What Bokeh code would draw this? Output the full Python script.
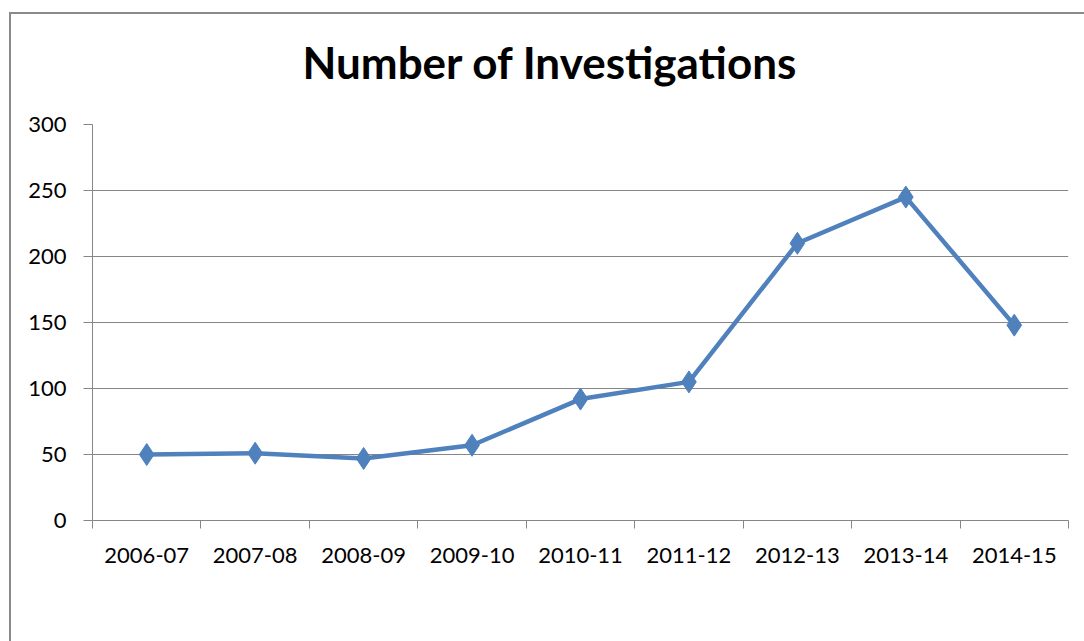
from bokeh.plotting import figure
from bokeh.models import (FixedTicker, Legend, LegendItem, Range1d)
from bokeh.embed import file_html
from bokeh.resources import INLINE

categories = ["2006-07", "2007-08", "2008-09", "2009-10", "2010-11",
              "2011-12", "2012-13", "2013-14", "2014-15"]
investigations = [50, 51, 47, 57, 92, 105, 210, 245, 148]
y_ticks = [0, 50, 100, 150, 200, 250, 300]
series_name = "Number of Investigations"
title_text = "Number of Investigations"

FONT = "Lato"
BLUE = "#4F81BD"
GRAY = "#868686"

n = len(categories)
xs = [i + 0.5 for i in range(n)]

p = figure(frame_width=976, frame_height=396, output_backend="svg", toolbar_location=None,
           x_range=Range1d(0, n), y_range=Range1d(0, 300),
           min_border_left=92, min_border_right=16, min_border_top=124,
           min_border_bottom=121, title=title_text)
# chart-area border (gray line on the left and top), drawn behind a transparent canvas
p.styles = {
    "background-image": "linear-gradient(#8a8a8a, #8a8a8a), linear-gradient(#8a8a8a, #8a8a8a)",
    "background-position": "9px 12px, 9px 12px",
    "background-size": "1200px 2px, 2px 800px",
    "background-repeat": "no-repeat",
}
p.outline_line_color = None
p.background_fill_color = "white"
p.border_fill_color = None

p.title.text_font = FONT
p.title.text_font_style = "bold"
p.title.text_font_size = "44px"
p.title.align = "left"
p.title.offset = 210
p.title.vertical_align = "top"
p.title.standoff = 70
p.title.text_color = "black"

line_r = p.line(xs, investigations, line_color=BLUE, line_width=4.5)
mark_r = p.scatter(xs, investigations, marker="diamond", size=22,
                   fill_color=BLUE, line_color=BLUE)

# x axis
xa = p.xaxis[0]
xa.ticker = FixedTicker(ticks=xs, minor_ticks=list(range(n + 1)))
xa.major_label_overrides = {x: c for x, c in zip(xs, categories)}
xa.major_tick_out = 0
xa.major_tick_in = 0
xa.minor_tick_out = 8
xa.minor_tick_in = 0
xa.minor_tick_line_color = GRAY
xa.axis_line_color = GRAY
xa.major_label_text_font = FONT
xa.major_label_text_font_size = "22px"
xa.major_label_text_color = "black"
xa.major_label_standoff = 19

# y axis
ya = p.yaxis[0]
ya.ticker = FixedTicker(ticks=y_ticks)
ya.major_tick_out = 9
ya.major_tick_in = 0
ya.minor_tick_out = 0
ya.minor_tick_in = 0
ya.major_tick_line_color = GRAY
ya.axis_line_color = GRAY
ya.major_label_text_font = FONT
ya.major_label_text_font_size = "22px"
ya.major_label_text_color = "black"
ya.major_label_standoff = 17

p.xgrid.visible = False
p.ygrid.ticker = FixedTicker(ticks=y_ticks)
p.ygrid.grid_line_color = GRAY
p.ygrid.grid_line_width = 1

legend = Legend(items=[LegendItem(label=series_name, renderers=[line_r, mark_r])],
                location="center", orientation="horizontal",
                glyph_width=54, glyph_height=22, label_standoff=4, label_width=320,
                padding=0, margin=0,
                border_line_color=None, background_fill_alpha=0,
                label_text_font=FONT, label_text_font_size="23px",
                label_text_color="black")
p.add_layout(legend, "below")

open("out.html", "w").write(file_html(p, INLINE))
